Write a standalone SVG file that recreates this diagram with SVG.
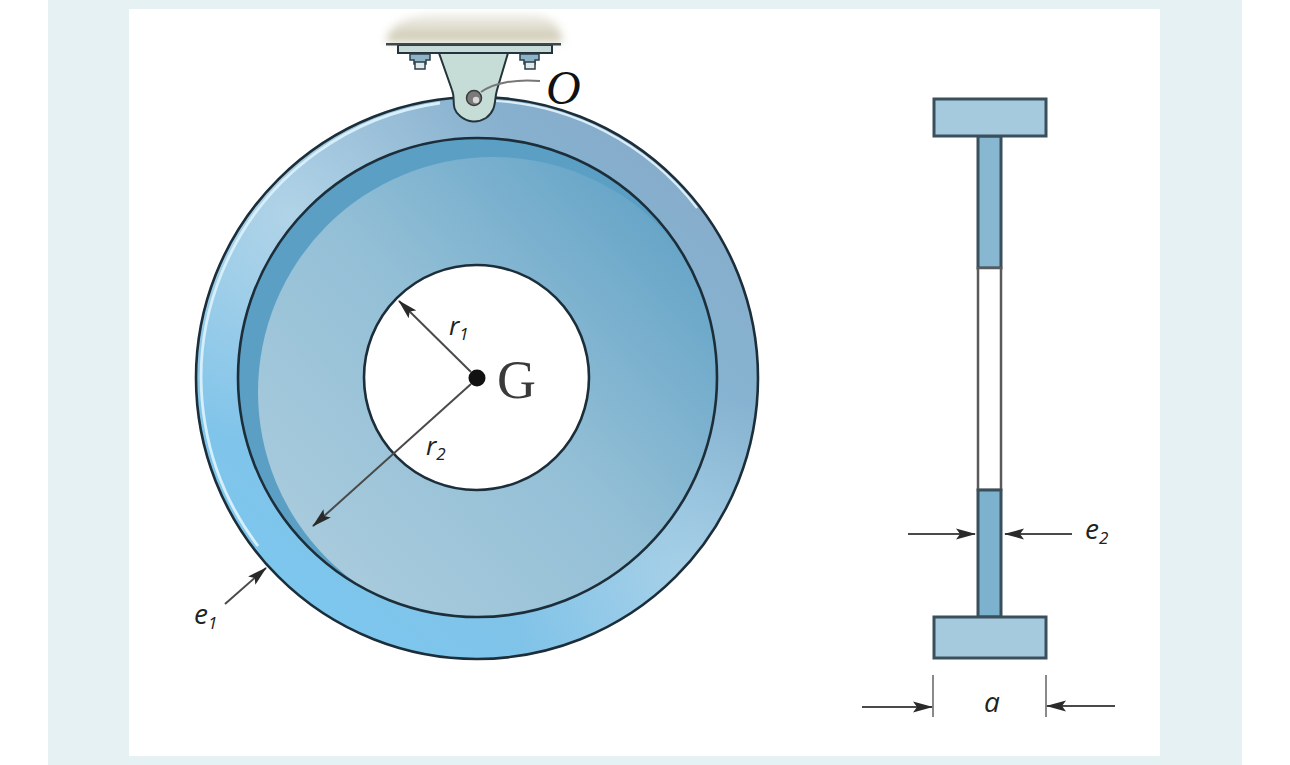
<svg xmlns="http://www.w3.org/2000/svg" width="1290" height="765" viewBox="0 0 1290 765">
<style>
.ol{stroke:#1c2e39;stroke-width:2.6}
.sec{stroke:#3a4f5c;stroke-width:3}
.dim{stroke:#4a4a4a;stroke-width:2;fill:none}
.ah{fill:#2a2a2a}
.it{font-family:"Liberation Serif",serif;font-style:italic;fill:#111}
.rom{font-family:"Liberation Serif",serif;fill:#3a3a3a}
.sans{font-family:"Open Sans","Liberation Sans",sans-serif;font-style:italic;fill:#222}
</style>
<defs>
<linearGradient id="ring" x1="0.2" y1="0.95" x2="0.85" y2="0.1">
<stop offset="0" stop-color="#7cc7f0"/><stop offset="0.4" stop-color="#84c0e2"/><stop offset="0.7" stop-color="#86b4d2"/><stop offset="1" stop-color="#86adcb"/>
</linearGradient>
<radialGradient id="hl"><stop offset="0" stop-color="#fff" stop-opacity="0.36"/><stop offset="1" stop-color="#fff" stop-opacity="0"/></radialGradient>
<radialGradient id="hl2"><stop offset="0" stop-color="#fff" stop-opacity="0.28"/><stop offset="1" stop-color="#fff" stop-opacity="0"/></radialGradient>
<linearGradient id="disc" gradientUnits="userSpaceOnUse" x1="300" y1="560" x2="680" y2="200">
<stop offset="0" stop-color="#a9cbdd"/><stop offset="0.5" stop-color="#93bfd6"/><stop offset="1" stop-color="#62a2c6"/>
</linearGradient>
<linearGradient id="base" x1="0" y1="0" x2="0" y2="1"><stop offset="0" stop-color="#d8d4c2" stop-opacity="0.35"/><stop offset="1" stop-color="#c8c4ac"/></linearGradient>
<filter id="blur" x="-10%" y="-30%" width="120%" height="160%"><feGaussianBlur stdDeviation="4"/></filter>
<clipPath id="innerClip"><circle cx="477.5" cy="377.5" r="239.5"/></clipPath>
<clipPath id="outerClip"><circle cx="477" cy="378" r="281"/></clipPath>
<marker id="arr" markerWidth="20" markerHeight="12" refX="19" refY="6" orient="auto" markerUnits="userSpaceOnUse"><path d="M0 0.5L20 6L0 11.500L4 6Z" class="ah"/></marker>
</defs>
<rect width="1290" height="765" fill="#fff"/>
<rect x="48" width="1194" height="765" fill="#e6f1f4"/>
<rect x="129" y="9" width="1031" height="747" fill="#fff"/>

<g id="support">
<path d="M386 42C390 22 410 14 440 14H530C552 14 562 28 562 42Z" fill="url(#base)" filter="url(#blur)"/>
<rect x="398" y="45" width="154" height="8" fill="#c6dad8" stroke="#24343c" stroke-width="2"/>
<rect x="386" y="43" width="175" height="2.500" fill="#3c4a50"/>
<g fill="#8fb3c6" stroke="#2b3f4a" stroke-width="1.500"><path d="M410 54H430V60H426V64H414V60H410Z"/><path d="M520 54H539V60H535V64H524V60H520Z"/></g>
<g fill="#dfe8ea" stroke="#2b3f4a" stroke-width="1.500"><rect x="415" y="62" width="10" height="7"/><rect x="525" y="62" width="10" height="7"/></g>
</g>

<g id="wheel">
<circle cx="477" cy="378" r="281" fill="url(#ring)"/>
<g clip-path="url(#outerClip)">
<circle cx="290" cy="215" r="235" fill="url(#hl)"/>
<circle cx="685" cy="570" r="180" fill="url(#hl2)"/>
</g>
<path d="M258 546A277.500 277.500 0 0 1 440 103" fill="none" stroke="#d6effb" stroke-width="2.800"/>
<path d="M490 100.500A277.500 277.500 0 0 1 697 208" fill="none" stroke="#dcedf6" stroke-width="2.200"/>
<circle cx="477" cy="378" r="281" fill="none" class="ol"/>
<circle cx="477.500" cy="377.500" r="239.500" fill="#5c9fc5"/>
<g clip-path="url(#innerClip)"><circle cx="493" cy="392" r="235" fill="url(#disc)"/></g>
<circle cx="477.500" cy="377.500" r="239.500" fill="none" class="ol"/>
<circle cx="476.500" cy="377.500" r="112.500" fill="#fff" class="ol"/>
</g>

<g id="bracket">
<path d="M439 53H508L497 90C494 100 497 110 486 118C478 123 468 123 460 116C450 108 456 100 452 90Z" fill="#c6dcd6" stroke="#24343c" stroke-width="2"/>
<circle cx="474" cy="98" r="7.500" fill="#7a7a7a" stroke="#3a3a3a" stroke-width="1.500"/>
<circle cx="476" cy="100" r="3.200" fill="#d8d8d8"/>
<path d="M481 92C495 82 518 79 540 81" fill="none" stroke="#777" stroke-width="2"/>
<text class="it" x="546" y="104" font-size="48">O</text>
</g>

<g id="center">
<circle cx="477" cy="378" r="8.500" fill="#111"/>
<text class="rom" x="497" y="398" font-size="54">G</text>
<text class="sans" x="449" y="335" font-size="26">r<tspan font-size="17" dy="5">1</tspan></text>
<text class="sans" x="426" y="455" font-size="26">r<tspan font-size="17" dy="5">2</tspan></text>
</g>

<g id="section">
<rect x="978" y="136" width="23" height="132" fill="#88b7d1" class="sec"/>
<rect x="978" y="268" width="23" height="222" fill="#fff" stroke="#5a5a5a" stroke-width="2.500"/>
<rect x="978" y="490" width="23" height="127" fill="#7db2cf" class="sec"/>
<rect x="934" y="99" width="112" height="37" fill="#a6cadd" class="sec"/>
<rect x="934" y="617" width="112" height="41" fill="#a6cadd" class="sec"/>
</g>

<g id="connectors">
<path class="dim" d="M471 372L399 301" marker-end="url(#arr)"/>
<path class="dim" d="M471 384L313 526" marker-end="url(#arr)"/>
<path class="dim" d="M225 604L266 568" marker-end="url(#arr)"/>
<path class="dim" d="M908 534H975" marker-end="url(#arr)"/>
<path class="dim" d="M1072 534H1005" marker-end="url(#arr)"/>
<path d="M933 675V717M1046 675V717" fill="none" stroke="#8a8a8a" stroke-width="2"/>
<path class="dim" d="M862 707H932" marker-end="url(#arr)"/>
<path class="dim" d="M1115 706H1047" marker-end="url(#arr)"/>
</g>

<g id="labels">
<text class="sans" x="194" y="624" font-size="28">e<tspan font-size="17" dy="5">1</tspan></text>
<text class="sans" x="1085" y="539" font-size="28">e<tspan font-size="17" dy="5">2</tspan></text>
<text class="sans" x="984" y="712" font-size="28">a</text>
</g>
</svg>
